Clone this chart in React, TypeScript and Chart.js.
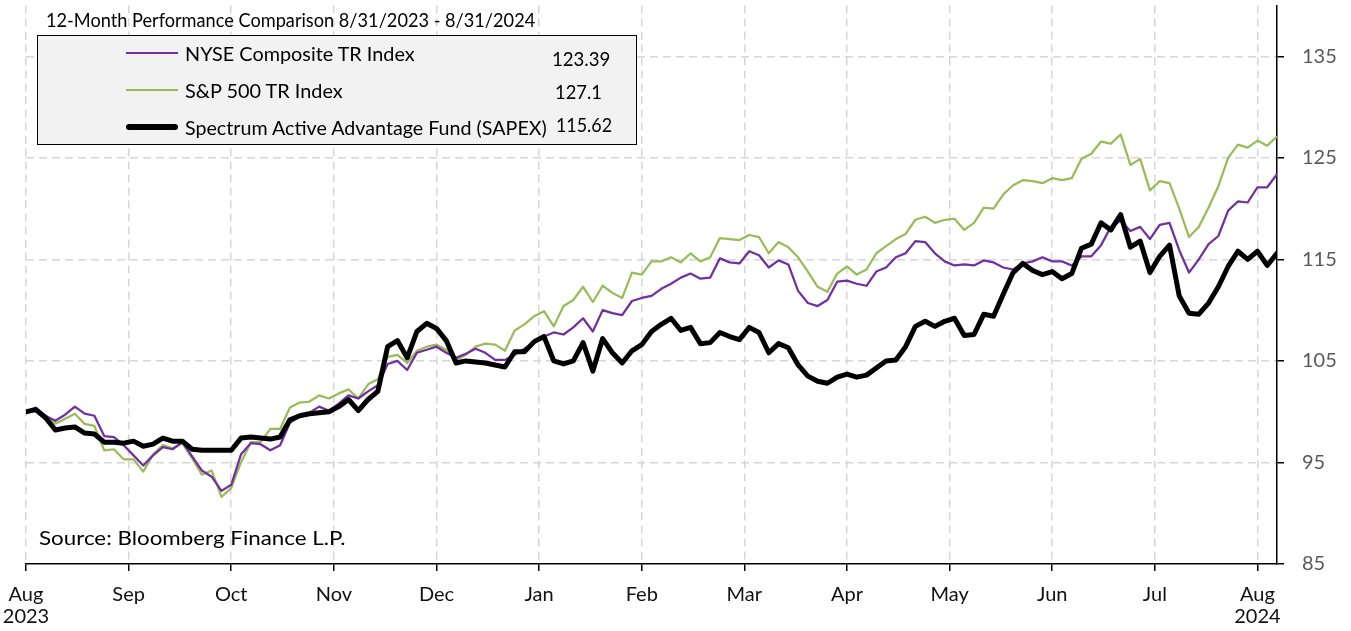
import React, { useEffect, useLayoutEffect, useRef } from "react";
import { Chart, registerables } from "chart.js";

Chart.register(...registerables);

// ---- data ----
const tradingDays: number[] = Array.from({ length: 129 }, (_, i) => i * 2);
const monthTickDays = [0, 21, 42, 63, 84, 105, 126, 147, 168, 189, 210, 231, 252];
const monthLabels: (string | string[])[] = [
  ["Aug", "2023"], "Sep", "Oct", "Nov", "Dec", "Jan", "Feb", "Mar", "Apr", "May", "Jun", "Jul", ["Aug", "2024"],
];
const yTicks = [85, 95, 105, 115, 125, 135];

const sapexValues = [
  100.0, 100.2, 99.4, 98.2, 98.4, 98.5, 97.9, 97.8, 97.0, 97.0,
  96.9, 97.1, 96.6, 96.8, 97.4, 97.1, 97.1, 96.3, 96.2, 96.2,
  96.2, 96.2, 97.4, 97.5, 97.4, 97.3, 97.5, 99.2, 99.6, 99.8,
  99.9, 100.0, 100.5, 101.2, 100.1, 101.2, 102.0, 106.4, 107.0, 105.3,
  107.9, 108.7, 108.2, 107.0, 104.8, 105.0, 104.9, 104.8, 104.6, 104.4,
  105.9, 105.9, 106.9, 107.4, 105.0, 104.7, 105.0, 106.8, 104.0, 107.2,
  105.8, 104.8, 106.0, 106.6, 107.9, 108.6, 109.2, 108.0, 108.3, 106.7,
  106.8, 107.8, 107.4, 107.1, 108.3, 107.8, 105.8, 106.7, 106.3, 104.6,
  103.5, 103.0, 102.8, 103.4, 103.7, 103.4, 103.6, 104.3, 105.0, 105.1,
  106.4, 108.4, 108.9, 108.4, 108.9, 109.2, 107.5, 107.6, 109.6, 109.4,
  111.6, 113.7, 114.6, 113.9, 113.5, 113.8, 113.1, 113.6, 116.1, 116.5,
  118.6, 117.9, 119.4, 116.2, 116.8, 113.7, 115.3, 116.4, 111.4, 109.7,
  109.6, 110.7, 112.3, 114.3, 115.8, 115.0, 115.8, 114.4, 115.6,
];

const nyseValues = [
  100.0, 100.4, 99.6, 99.1, 99.7, 100.5, 99.8, 99.6, 97.6, 97.5,
  96.7, 95.7, 94.7, 95.7, 96.5, 96.3, 97.0, 95.6, 94.2, 93.6,
  92.2, 92.8, 95.8, 96.9, 96.8, 96.2, 96.7, 98.9, 99.5, 99.9,
  100.5, 100.1, 100.8, 101.6, 101.3, 102.0, 102.6, 104.7, 105.0, 104.1,
  105.8, 106.1, 106.4, 105.8, 105.3, 105.7, 106.2, 105.8, 105.1, 105.1,
  105.6, 106.2, 106.8, 107.4, 107.8, 107.6, 108.3, 109.2, 107.9, 110.0,
  109.7, 109.5, 110.9, 111.2, 111.4, 112.1, 112.6, 113.2, 113.6, 113.1,
  113.2, 115.1, 114.7, 114.6, 115.8, 115.4, 114.2, 114.9, 114.5, 111.9,
  110.7, 110.4, 111.0, 112.8, 112.9, 112.6, 112.4, 113.8, 114.2, 115.2,
  115.6, 116.8, 116.7, 115.6, 114.8, 114.4, 114.5, 114.4, 114.9, 114.7,
  114.2, 114.0, 114.6, 114.8, 115.2, 114.8, 114.8, 114.4, 115.3, 115.3,
  116.4, 118.2, 118.8, 117.8, 118.2, 117.0, 118.4, 118.6, 115.9, 113.7,
  115.0, 116.5, 117.3, 119.8, 120.7, 120.6, 122.1, 122.1, 123.4,
];

const spxValues = [
  100.0, 100.1, 99.6, 98.8, 99.3, 99.8, 98.8, 98.6, 96.2, 96.3,
  95.3, 95.3, 94.1, 95.8, 96.7, 96.4, 96.9, 95.4, 93.8, 94.2,
  91.6, 92.5, 95.0, 97.0, 97.0, 98.3, 98.3, 100.4, 100.9, 101.0,
  101.6, 101.3, 101.8, 102.2, 101.3, 102.7, 103.2, 105.4, 105.6, 104.8,
  106.0, 106.4, 106.6, 106.1, 105.1, 105.6, 106.4, 106.7, 106.6, 106.0,
  108.0, 108.6, 109.4, 109.9, 108.4, 110.4, 111.0, 112.3, 110.8, 112.4,
  111.7, 111.2, 113.7, 113.5, 114.8, 114.8, 115.2, 114.7, 115.6, 114.8,
  115.2, 117.1, 117.0, 116.9, 117.4, 117.2, 115.6, 116.7, 116.2, 115.2,
  113.8, 112.3, 111.8, 113.6, 114.3, 113.5, 114.0, 115.6, 116.3, 117.0,
  117.5, 118.9, 119.2, 118.6, 118.9, 119.0, 117.9, 118.6, 120.1, 120.0,
  121.4, 122.3, 122.8, 122.7, 122.5, 123.0, 122.8, 123.0, 124.9, 125.4,
  126.6, 126.4, 127.3, 124.3, 124.9, 121.8, 122.7, 122.5, 120.0, 117.2,
  118.2, 120.1, 122.2, 125.0, 126.3, 126.0, 126.7, 126.2, 127.1,
];

const seriesNames = ["NYSE Composite TR Index", "S&P 500 TR Index", "Spectrum Active Advantage Fund (SAPEX)"];
const lastValues = ["123.39", "127.1", "115.62"];
const titleText = "12-Month Performance Comparison 8/31/2023 - 8/31/2024";
const sourceText = "Source: Bloomberg Finance L.P.";

const PURPLE = "#7030a0";
const GREEN = "#9bbb59";
const BLACK = "#000000";
const GRID = "#d6d6d6";
const FONT = "Lato, 'Open Sans', sans-serif";

type FitProps = { text: string; left: number; baseline: number; size: number; width: number; color?: string };

function FitText({ text, left, baseline, size, width, color = "#000" }: FitProps) {
  const ref = useRef<HTMLSpanElement>(null);
  useLayoutEffect(() => {
    const el = ref.current;
    if (!el) return;
    const apply = () => {
      const w = el.offsetWidth;
      if (w > 0) el.style.transform = `scaleX(${width / w})`;
    };
    apply();
    if ((document as any).fonts && (document as any).fonts.ready) (document as any).fonts.ready.then(apply);
  }, [width, text]);
  return (
    <span
      ref={ref}
      style={{
        position: "absolute",
        left,
        top: baseline - 0.887 * size,
        fontFamily: FONT,
        fontSize: size,
        lineHeight: `${size}px`,
        whiteSpace: "nowrap",
        transformOrigin: "0 0",
        color,
      }}
    >
      {text}
    </span>
  );
}

export default function App() {
  const canvasRef = useRef<HTMLCanvasElement>(null);

  useEffect(() => {
    const canvas = canvasRef.current;
    if (!canvas) return;
    const dash = [8, 5];
    const chart = new Chart(canvas, {
      type: "line",
      data: {
        labels: tradingDays,
        datasets: [
          {
            label: seriesNames[2],
            data: sapexValues,
            borderColor: BLACK,
            borderWidth: 5,
            borderJoinStyle: "round",
            borderCapStyle: "round",
            pointRadius: 0,
            tension: 0,
          },
          {
            label: seriesNames[0],
            data: nyseValues,
            borderColor: PURPLE,
            borderWidth: 2.25,
            borderJoinStyle: "round",
            pointRadius: 0,
            tension: 0,
          },
          {
            label: seriesNames[1],
            data: spxValues,
            borderColor: GREEN,
            borderWidth: 2.25,
            borderJoinStyle: "round",
            pointRadius: 0,
            tension: 0,
          },
        ],
      },
      options: {
        animation: false,
        responsive: false,
        devicePixelRatio: 1,
        layout: { padding: { left: 26, top: 5.5, right: 0, bottom: 0 } },
        plugins: { legend: { display: false }, tooltip: { enabled: false }, title: { display: false } },
        scales: {
          x: {
            type: "linear",
            min: 0,
            max: 256,
            afterBuildTicks: (s: any) => {
              s.ticks = monthTickDays.map((v) => ({ value: v }));
            },
            afterFit: (s: any) => {
              s.height = 67;
              s.paddingLeft = 0;
              s.paddingRight = 0;
            },
            ticks: {
              autoSkip: false,
              maxRotation: 0,
              minRotation: 0,
              padding: 13,
              color: "#111111",
              font: { family: FONT, size: 20, lineHeight: 1.08 },
              callback: (_v: any, i: number) => monthLabels[i],
            },
            grid: {
              color: GRID,
              lineWidth: 1.5,
              tickLength: 7,
              tickColor: "#000",
              tickWidth: 1.5,
              tickBorderDash: [],
            },
            border: { display: true, color: "#000", width: 1.5, dash },
          },
          y: {
            type: "linear",
            position: "right",
            min: 85,
            max: 140,
            afterBuildTicks: (s: any) => {
              s.ticks = yTicks.map((v) => ({ value: v }));
            },
            afterFit: (s: any) => {
              s.width = 74;
              s.paddingTop = 0;
              s.paddingBottom = 0;
            },
            ticks: {
              padding: 18,
              color: "#595959",
              font: { family: FONT, size: 20 },
              callback: (v: any) => String(v),
            },
            grid: {
              color: (ctx: any) => (ctx.tick && ctx.tick.value === 85 ? "rgba(0,0,0,0)" : GRID),
              lineWidth: 1.5,
              tickLength: 7,
              tickColor: "#000",
              tickWidth: 1.5,
              tickBorderDash: [],
            },
            border: { display: true, color: "#000", width: 1.5, dash },
          },
        },
      } as any,
    });
    return () => chart.destroy();
  }, []);

  const legendRows = [
    { color: PURPLE, thick: 2.25, lineY: 52.7, textBase: 61, name: seriesNames[0], nameW: 230, value: lastValues[0], valLeft: 551.7, valBase: 66.7, valW: 58.3 },
    { color: GREEN, thick: 2.25, lineY: 90, textBase: 97.7, name: seriesNames[1], nameW: 158, value: lastValues[1], valLeft: 555, valBase: 99, valW: 46.7 },
    { color: BLACK, thick: 6, lineY: 126.7, textBase: 134.3, name: seriesNames[2], nameW: 362, value: lastValues[2], valLeft: 555.7, valBase: 132.7, valW: 56 },
  ];

  return (
    <div style={{ position: "fixed", left: 0, top: 0, width: 1351, height: 631, background: "#fff", overflow: "hidden" }}>
      <canvas ref={canvasRef} width={1351} height={631} style={{ position: "absolute", left: 0, top: 0, width: 1351, height: 631 }} />
      <FitText text={titleText} left={46} baseline={27.3} size={18.5} width={489} />
      <div
        style={{
          position: "absolute",
          left: 37,
          top: 35,
          width: 600,
          height: 110,
          boxSizing: "border-box",
          border: "1.6px solid #000",
          background: "#f2f2f2",
        }}
      />
      {legendRows.map((r, i) => (
        <React.Fragment key={i}>
          <div
            style={{
              position: "absolute",
              left: 126,
              top: r.lineY - r.thick / 2,
              width: 52,
              height: r.thick,
              background: r.color,
              borderRadius: r.thick > 3 ? r.thick / 2 : 0,
            }}
          />
          <FitText text={r.name} left={185} baseline={r.textBase} size={20} width={r.nameW} />
          <FitText text={r.value} left={r.valLeft} baseline={r.valBase} size={18.5} width={r.valW} />
        </React.Fragment>
      ))}
      <FitText text={sourceText} left={39.3} baseline={545} size={18.5} width={307} />
    </div>
  );
}
